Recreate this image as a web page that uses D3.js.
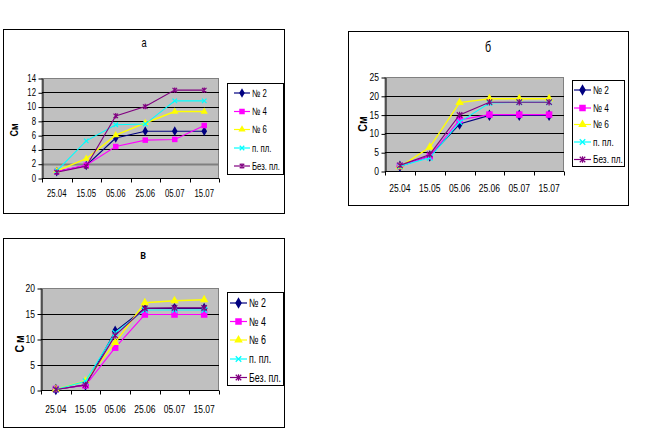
<!DOCTYPE html>
<html>
<head>
<meta charset="utf-8">
<script src="https://cdn.jsdelivr.net/npm/d3@7"></script>
<style>
    body { margin: 0; background: #fff; }
    svg { display: block; }
    text { font-family: "Liberation Sans", Arial, sans-serif; }
</style>
</head>
<body>
<svg id="chart" width="661" height="434"></svg>
<script>
'use strict';

// dates of measurement
const dates = ['25.04', '15.05', '05.06', '25.06', '05.07', '15.07'];
const seriesNames = ['№ 2', '№ 4', '№ 6', 'п. пл.', 'Без. пл.'];

// chart "а": rows follow seriesNames
const valuesA = [
    [0.9, 1.75, 5.6, 6.55, 6.55, 6.55],
    [0.9, 1.8, 4.4, 5.3, 5.4, 7.35],
    [1.0, 2.7, 6.0, 7.7, 9.3, 9.3],
    [1.0, 5.2, 7.45, 7.55, 10.8, 10.8],
    [0.8, 1.65, 8.7, 10.0, 12.3, 12.3]
];
const ticksA = [0, 2, 4, 6, 8, 10, 12, 14];

// chart "б"
const valuesB = [
    [1.25, 4.0, 12.5, 14.8, 14.8, 14.8],
    [1.3, 3.9, 13.6, 15.0, 15.0, 15.0],
    [1.1, 6.3, 18.2, 19.2, 19.2, 19.2],
    [1.3, 3.5, 13.0, 18.1, 18.3, 18.3],
    [1.5, 4.4, 14.9, 18.3, 18.3, 18.3]
];
const ticksB = [0, 5, 10, 15, 20, 25];

// chart "в"
const valuesC = [
    [0.1, 1.0, 11.5, 16.0, 16.0, 16.0],
    [0.2, 0.9, 8.3, 14.8, 14.8, 14.8],
    [0.1, 1.8, 9.3, 17.1, 17.5, 17.7],
    [0.1, 1.7, 11.2, 15.7, 15.7, 15.7],
    [0.1, 1.0, 10.7, 16.0, 16.1, 16.1]
];
const ticksC = [0, 5, 10, 15, 20];

const colors = ['#000080', '#ff00ff', '#ffff00', '#00ffff', '#800080'];
const markers = ['diamond', 'square', 'triangle', 'x', 'star'];
const squeeze = 0.74; // the old excel font is very narrow

const svg = d3.select('#chart');

// text squeezed horizontally around its anchor point
function narrowText(parent, x, y, str, size, anchor, bold) {
    return parent.append('text')
        .attr('transform', 'translate(' + x + ',' + y + ') scale(' + squeeze + ',1)')
        .attr('text-anchor', anchor)
        .attr('font-size', size + 'px')
        .attr('font-weight', bold ? 'bold' : 'normal')
        .attr('fill', '#000')
        .text(str);
}

function drawMarker(g, type, color, s) {
    const r = s / 2 - 0.5;
    if (type === 'diamond') {
        g.append('path').attr('d', d3.symbol(d3.symbolDiamond, s * s * 0.9)())
            .attr('fill', color);
    } else if (type === 'square') {
        g.append('rect').attr('x', -s / 2).attr('y', -s / 2)
            .attr('width', s).attr('height', s).attr('fill', color);
    } else if (type === 'triangle') {
        g.append('path').attr('d', d3.symbol(d3.symbolTriangle, s * s * 0.75)())
            .attr('fill', color);
    } else if (type === 'x') {
        g.append('path').attr('d', 'M' + -r + ',' + -r + 'L' + r + ',' + r + 'M' + -r + ',' + r + 'L' + r + ',' + -r)
            .attr('stroke', color).attr('stroke-width', 1.3);
    } else {
        g.append('path').attr('d', 'M' + -r + ',' + -r + 'L' + r + ',' + r + 'M' + -r + ',' + r + 'L' + r + ',' + -r +
            'M0,' + (-r - 0.5) + 'L0,' + (r + 0.5))
            .attr('stroke', color).attr('stroke-width', 1.2);
    }
}

function drawChart(cfg) {
    const root = svg.append('g');

    root.append('rect')
        .attr('x', cfg.frame[0] + 0.5).attr('y', cfg.frame[1] + 0.5)
        .attr('width', cfg.frame[2] - cfg.frame[0]).attr('height', cfg.frame[3] - cfg.frame[1])
        .attr('fill', '#fff').attr('stroke', '#000');

    narrowText(root, cfg.title[0], cfg.title[1], cfg.name, cfg.titleSize, 'middle', cfg.titleBold);

    const p = cfg.plot;
    const x = d3.scaleBand().domain(dates).range([p[0], p[2]]);
    const y = d3.scaleLinear().domain([0, d3.max(cfg.ticks)]).range([p[3], p[1]]);

    root.append('rect')
        .attr('x', p[0]).attr('y', p[1] + 0.5)
        .attr('width', p[2] - p[0] - 0.5).attr('height', p[3] - p[1])
        .attr('fill', '#c0c0c0').attr('stroke', '#808080');

    root.selectAll('.grid')
        .data(cfg.ticks.filter(t => t > 0 && t < d3.max(cfg.ticks)))
        .enter().append('line')
        .attr('x1', p[0]).attr('x2', p[2])
        .attr('y1', d => Math.round(y(d)) + 0.5).attr('y2', d => Math.round(y(d)) + 0.5)
        .attr('stroke', d => (cfg.grayTick === d ? '#808080' : '#000'))
        .attr('stroke-width', d => (cfg.grayTick === d ? 2 : 1));

    // y axis
    const yAxis = root.append('g')
        .attr('transform', 'translate(' + (p[0] + 0.5) + ',0.5)')
        .call(d3.axisLeft(y).tickValues(cfg.ticks).tickSize(4).tickSizeOuter(0).tickFormat(''));
    yAxis.selectAll('.tick line').attr('stroke', '#000');
    yAxis.select('.domain').attr('stroke', '#000');
    cfg.ticks.forEach(t => {
        narrowText(root, p[0] - 6, y(t), t, cfg.tickSize, 'end').attr('dy', '0.35em');
    });

    // x axis: ticks on category boundaries, labels in the middle
    const xAxis = root.append('g')
        .attr('transform', 'translate(0,' + (p[3] + 0.5) + ')');
    xAxis.append('line').attr('x1', p[0]).attr('x2', p[2]).attr('stroke', '#000');
    xAxis.selectAll('.bt')
        .data(d3.range(dates.length + 1))
        .enter().append('line')
        .attr('x1', i => Math.round(p[0] + i * x.step()) + 0.5)
        .attr('x2', i => Math.round(p[0] + i * x.step()) + 0.5)
        .attr('y1', 0).attr('y2', 4).attr('stroke', '#000');
    dates.forEach(d => {
        narrowText(xAxis, x(d) + x.bandwidth() / 2, cfg.xLabelDy, d, cfg.tickSize, 'middle');
    });

    root.append('text')
        .attr('transform', 'translate(' + cfg.yLabel[0] + ',' + cfg.yLabel[1] + ') rotate(-90) scale(0.85,1)')
        .attr('text-anchor', 'middle')
        .attr('font-size', cfg.yLabelSize + 'px')
        .attr('font-weight', 'bold')
        .attr('letter-spacing', cfg.yLabelSpacing || 0)
        .text('См');

    const line = d3.line()
        .x((d, i) => x(dates[i]) + x.bandwidth() / 2)
        .y(d => y(d));

    cfg.values.forEach((vals, k) => {
        root.append('path')
            .attr('d', line(vals))
            .attr('fill', 'none')
            .attr('stroke', colors[k])
            .attr('stroke-width', k === 2 ? 1.4 : 1.1);
        vals.forEach((v, i) => {
            const g = root.append('g')
                .attr('transform', 'translate(' + (x(dates[i]) + x.bandwidth() / 2) + ',' + y(v) + ')');
            drawMarker(g, markers[k], colors[k], cfg.markerSize);
        });
    });

    // legend
    const l = cfg.legend;
    root.append('rect')
        .attr('x', l[0] + 0.5).attr('y', l[1] + 0.5)
        .attr('width', l[2] - l[0]).attr('height', l[3] - l[1])
        .attr('fill', '#fff').attr('stroke', '#000');
    seriesNames.forEach((name, k) => {
        const ly = cfg.legendRows[k];
        root.append('line')
            .attr('x1', cfg.legendLine[0]).attr('x2', cfg.legendLine[1])
            .attr('y1', ly).attr('y2', ly)
            .attr('stroke', colors[k]).attr('stroke-width', 1.2);
        const g = root.append('g')
            .attr('transform', 'translate(' + ((cfg.legendLine[0] + cfg.legendLine[1]) / 2) + ',' + ly + ')');
        drawMarker(g, markers[k], colors[k], cfg.markerSize);
        narrowText(root, cfg.legendLine[1] + 2, ly, name, cfg.legendSize, 'start').attr('dy', '0.35em');
    });
}

drawChart({
    name: 'а', values: valuesA, ticks: ticksA, grayTick: 2,
    frame: [3, 29, 284, 213], plot: [42, 78, 219, 178],
    title: [144, 47], titleSize: 12.5, titleBold: false,
    tickSize: 10.5, xLabelDy: 18.5, yLabel: [18, 130], yLabelSize: 10.5,
    legend: [227, 83, 283, 174], legendRows: [93, 111.5, 129.5, 148, 166],
    legendLine: [234, 250], legendSize: 10.5, markerSize: 5.5
});

drawChart({
    name: 'б', values: valuesB, ticks: ticksB,
    frame: [348, 31, 628, 205], plot: [385, 77, 564, 171],
    title: [488, 52], titleSize: 14.5, titleBold: false,
    tickSize: 11.5, xLabelDy: 20.5, yLabel: [367, 124], yLabelSize: 12.5,
    legend: [572, 80, 624, 166], legendRows: [90, 108, 124.5, 142, 159.5],
    legendLine: [574, 591], legendSize: 11.2, markerSize: 6.5
});

drawChart({
    name: 'в', values: valuesC, ticks: ticksC,
    frame: [3, 238, 284, 427], plot: [41, 288, 219, 390],
    title: [143, 259], titleSize: 12.5, titleBold: true,
    tickSize: 11.5, xLabelDy: 22.5, yLabel: [24, 343], yLabelSize: 12.5, yLabelSpacing: 2,
    legend: [227, 292, 283, 385], legendRows: [303, 321.5, 340, 359, 377.5],
    legendLine: [230, 247], legendSize: 12, markerSize: 6.5
});
</script>
</body>
</html>
